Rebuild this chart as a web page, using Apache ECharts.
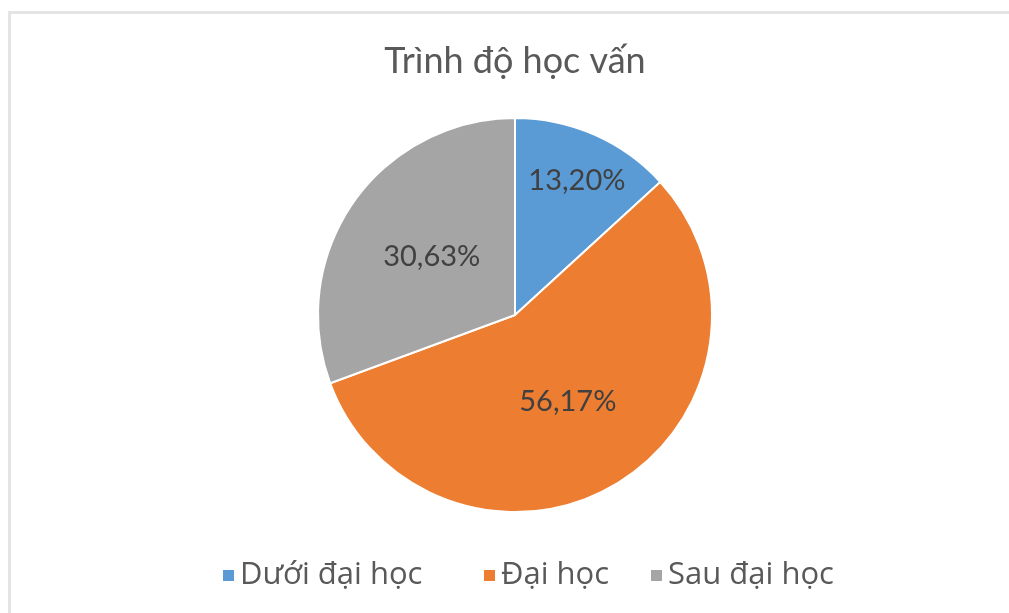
<!DOCTYPE html>
<html>
<head>
<meta charset="utf-8">
<script src="https://cdn.jsdelivr.net/npm/echarts@6/dist/echarts.min.js"></script>
<style>
  html, body { margin: 0; padding: 0; background: #fff; }
  .frame {
    position: absolute; left: 8px; top: 11px; right: -10px; bottom: -10px;
    border-left: 3px solid #e4e4e4; border-top: 3px solid #e4e4e4;
  }
  #chart { position: absolute; left: 0; top: 0; width: 1009px; height: 613px; }
</style>
</head>
<body>
<div class="frame"></div>
<div id="chart"></div>
<script>
const categories = ['Dưới đại học', 'Đại học', 'Sau đại học'];
const values = [13.20, 56.17, 30.63];
const colors = ['#5B9BD5', '#ED7D31', '#A5A5A5'];

const fmt = (v) => v.toFixed(2).replace('.', ',') + '%';

// one legend box per item so each sits where Excel put it
const legendLeft = [221, 482, 649];
const legendStyle = {
  top: 560,
  padding: 0,
  icon: 'rect',
  itemWidth: 13,
  itemHeight: 13,
  textStyle: { fontFamily: 'Open Sans', fontSize: 31, color: '#595959' }
};

const chart = echarts.init(document.getElementById('chart'));

const option = {
  color: colors,
  animation: false,
  title: {
    text: 'Trình độ học vấn',
    left: 515,
    top: 43,
    padding: 0,
    textAlign: 'center',
    textStyle: { fontFamily: 'Lato', fontWeight: 'normal', fontSize: 36, color: '#595959' }
  },
  legend: categories.map((name, i) => Object.assign({ data: [name], left: legendLeft[i] }, legendStyle)),
  series: [
    {
      type: 'pie',
      center: [515, 315],
      radius: 197,
      startAngle: 90,
      clockwise: true,
      itemStyle: { borderColor: '#fff', borderWidth: 2 },
      label: {
        position: 'inside',
        fontFamily: 'Lato',
        fontSize: 29,
        color: '#404040',
        formatter: (p) => fmt(p.value)
      },
      labelLine: { show: false },
      emphasis: { disabled: true },
      data: categories.map((name, i) => ({
        name: name,
        value: values[i],
        label: i === 0 ? { offset: [21, -41] } : {}
      }))
    }
  ]
};

chart.setOption(option);
</script>
</body>
</html>
